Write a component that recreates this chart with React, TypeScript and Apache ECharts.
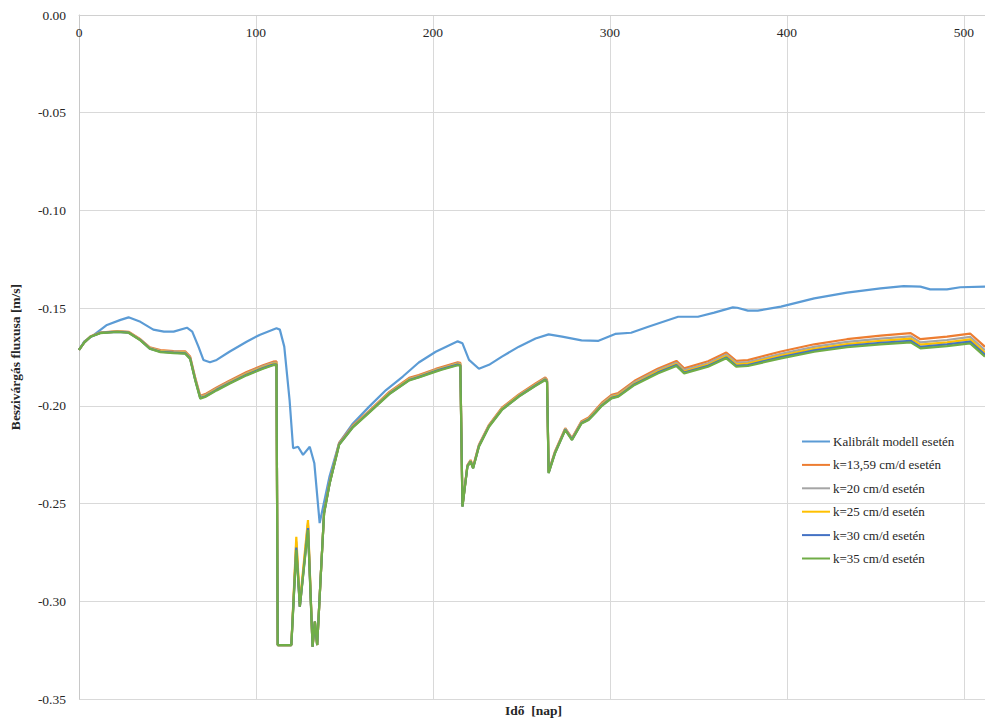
import React, { useEffect, useRef } from "react";
import * as echarts from "echarts";

const seriesNames = [
  "Kalibrált modell esetén",
  "k=13,59 cm/d esetén",
  "k=20 cm/d esetén",
  "k=25 cm/d esetén",
  "k=30 cm/d esetén",
  "k=35 cm/d esetén",
];
const seriesColors = ["#5B9BD5", "#ED7D31", "#A5A5A5", "#FFC000", "#4472C4", "#70AD47"];

const xTicks = [0, 100, 200, 300, 400, 500];
const yTicks = [0, -0.05, -0.1, -0.15, -0.2, -0.25, -0.3, -0.35];

const calibDays = [
  0, 3, 8.4, 15.8, 23.5, 28, 34.7, 42, 48, 53.5, 61, 64, 67.5, 70.3, 74, 77.8, 85, 94.7, 102, 111.6,
  113.5, 116, 119, 121, 123.8, 126.6, 130.4, 133, 136, 141.6, 147, 154.8, 164, 173.5, 183, 192, 201.6,
  214, 216.7, 220.4, 226, 231.7, 239, 248.6, 258, 265.4, 273, 284, 293.6, 303, 312, 321.7, 338.6,
  349.8, 359, 369.5, 372, 378, 383.6, 396.7, 415.5, 434, 453, 466, 475.5, 481, 490.5, 498, 512,
];
const calibValues = [
  -0.1714, -0.167, -0.1637, -0.1586, -0.156, -0.1547, -0.157, -0.161, -0.162, -0.162, -0.16, -0.162,
  -0.1697, -0.1765, -0.1777, -0.1765, -0.1723, -0.1672, -0.1637, -0.1603, -0.161, -0.1697, -0.197,
  -0.2217, -0.2209, -0.2251, -0.2209, -0.2294, -0.26, -0.236, -0.219, -0.209, -0.2004, -0.1919, -0.185,
  -0.1778, -0.1723, -0.167, -0.168, -0.1765, -0.181, -0.179, -0.1748, -0.1697, -0.1655, -0.1634,
  -0.1646, -0.1665, -0.1667, -0.1632, -0.1626, -0.1595, -0.1544, -0.1544, -0.1523, -0.1496, -0.1498,
  -0.1513, -0.1513, -0.1492, -0.145, -0.1421, -0.1399, -0.1387, -0.139, -0.1404, -0.1404, -0.1393, -0.139,
];

const kDays = [
  0, 3, 6.6, 12, 21.6, 28, 34.7, 40, 46, 53.5, 60, 62.8, 65.7, 68.5, 71.3, 77.8, 85, 94.7, 104, 109.7,
  111.6, 112.3, 120, 122.8, 124.8, 129.4, 132, 133.3, 134.6, 136.5, 138.5, 141.6, 147, 154.8, 164, 175.4,
  186.6, 192, 201.6, 205, 214, 215.5, 216.7, 219.5, 221.3, 222.7, 226, 231.7, 239, 248.6, 258, 263.5,
  264.5, 265.4, 269, 274.8, 278.6, 284, 288, 291.7, 295.5, 301, 304.8, 314, 327, 337.6, 342, 355.5,
  365.8, 371.4, 378, 396.7, 415.5, 434, 453, 470, 475.5, 490.5, 503.6, 512,
];

const k1359 = [
  -0.1714, -0.1675, -0.1644, -0.1625, -0.1618, -0.1621, -0.1659, -0.17, -0.1715, -0.172, -0.1721, -0.1748,
  -0.1857, -0.1948, -0.194, -0.1906, -0.1871, -0.1827, -0.1792, -0.1774, -0.1772, -0.3224, -0.3224,
  -0.271, -0.3028, -0.261, -0.3232, -0.3104, -0.3224, -0.289, -0.2545, -0.2392, -0.219, -0.21, -0.2025,
  -0.1928, -0.1857, -0.1842, -0.1811, -0.1801, -0.1777, -0.178, -0.2511, -0.2303, -0.2277, -0.2312,
  -0.2199, -0.2097, -0.2009, -0.1941, -0.1885, -0.1854, -0.1866, -0.2335, -0.2233, -0.2114, -0.2165,
  -0.2078, -0.2059, -0.2023, -0.1984, -0.1944, -0.1934, -0.1872, -0.181, -0.177, -0.1808, -0.1772,
  -0.1727, -0.177, -0.1766, -0.1722, -0.1685, -0.1659, -0.1641, -0.1628, -0.1659, -0.1646, -0.163, -0.1698,
];
const k20 = [
  -0.1714, -0.1675, -0.1645, -0.1626, -0.1619, -0.1623, -0.1661, -0.1703, -0.1718, -0.1723, -0.1725,
  -0.1752, -0.1862, -0.1953, -0.1945, -0.1911, -0.1877, -0.1833, -0.1798, -0.178, -0.1778, -0.3224,
  -0.3224, -0.2695, -0.3028, -0.26, -0.3232, -0.3104, -0.3224, -0.289, -0.2547, -0.2395, -0.2193, -0.2103,
  -0.2028, -0.1932, -0.1862, -0.1847, -0.1816, -0.1806, -0.1782, -0.1785, -0.2513, -0.2306, -0.228,
  -0.2315, -0.2202, -0.21, -0.2013, -0.1945, -0.189, -0.1859, -0.1871, -0.2338, -0.2236, -0.2117, -0.2168,
  -0.2082, -0.2064, -0.2028, -0.199, -0.195, -0.1941, -0.1879, -0.1818, -0.1779, -0.1817, -0.1782,
  -0.1737, -0.178, -0.1776, -0.1734, -0.1698, -0.1673, -0.1656, -0.1644, -0.1675, -0.1663, -0.1647, -0.1715,
];
const k25 = [
  -0.1714, -0.1675, -0.1645, -0.1627, -0.162, -0.1624, -0.1663, -0.1705, -0.1721, -0.1726, -0.1728,
  -0.1755, -0.1865, -0.1957, -0.1949, -0.1915, -0.1881, -0.1837, -0.1803, -0.1785, -0.1783, -0.3224,
  -0.3224, -0.267, -0.301, -0.2584, -0.3232, -0.3104, -0.3224, -0.289, -0.2548, -0.2397, -0.2196, -0.2106,
  -0.2031, -0.1935, -0.1865, -0.185, -0.1819, -0.1809, -0.1786, -0.1789, -0.2514, -0.2308, -0.2282,
  -0.2317, -0.2205, -0.2103, -0.2016, -0.1948, -0.1893, -0.1862, -0.1874, -0.2341, -0.2239, -0.212,
  -0.2171, -0.2085, -0.2067, -0.2032, -0.1994, -0.1955, -0.1945, -0.1885, -0.1824, -0.1786, -0.1824,
  -0.1789, -0.1745, -0.1788, -0.1784, -0.1743, -0.1708, -0.1684, -0.1667, -0.1656, -0.1687, -0.1675,
  -0.166, -0.1728,
];
const k30 = [
  -0.1714, -0.1675, -0.1646, -0.1627, -0.1621, -0.1625, -0.1664, -0.1707, -0.1723, -0.1728, -0.1731,
  -0.1758, -0.1868, -0.196, -0.1952, -0.1918, -0.1884, -0.1841, -0.1807, -0.1789, -0.1787, -0.3224,
  -0.3224, -0.2725, -0.3028, -0.2625, -0.3232, -0.3104, -0.3224, -0.289, -0.2549, -0.2399, -0.2198,
  -0.2108, -0.2033, -0.1938, -0.1868, -0.1853, -0.1822, -0.1812, -0.1789, -0.1792, -0.2515, -0.231,
  -0.2284, -0.2319, -0.2207, -0.2105, -0.2019, -0.1951, -0.1896, -0.1865, -0.1877, -0.2343, -0.2241,
  -0.2122, -0.2173, -0.2088, -0.207, -0.2035, -0.1997, -0.1959, -0.195, -0.1889, -0.183, -0.1791, -0.1829,
  -0.1795, -0.1752, -0.1795, -0.1791, -0.1751, -0.1716, -0.1693, -0.1677, -0.1667, -0.1698, -0.1685,
  -0.1671, -0.1739,
];
const k35 = [
  -0.1714, -0.1675, -0.1646, -0.1628, -0.1622, -0.1626, -0.1665, -0.1708, -0.1725, -0.173, -0.1733,
  -0.176, -0.187, -0.1963, -0.1955, -0.1921, -0.1887, -0.1844, -0.181, -0.1792, -0.179, -0.3224, -0.3224,
  -0.2737, -0.3028, -0.2635, -0.3232, -0.3104, -0.3224, -0.289, -0.255, -0.24, -0.22, -0.211, -0.2035,
  -0.194, -0.187, -0.1855, -0.1825, -0.1815, -0.1792, -0.1795, -0.2516, -0.2311, -0.2285, -0.232, -0.2209,
  -0.2107, -0.2021, -0.1953, -0.1898, -0.1868, -0.188, -0.2345, -0.2243, -0.2124, -0.2175, -0.209,
  -0.2072, -0.2038, -0.2, -0.1962, -0.1953, -0.1893, -0.1834, -0.1796, -0.1834, -0.18, -0.1757, -0.18,
  -0.1796, -0.1757, -0.1723, -0.17, -0.1685, -0.1675, -0.1706, -0.1694, -0.168, -0.1748,
];

const FONT = "Liberation Serif";

export default function App() {
  const ref = useRef<HTMLDivElement>(null);
  useEffect(() => {
    if (!ref.current) return;
    const chart = echarts.init(ref.current, undefined, { renderer: "svg" });
    const pair = (xs: number[], ys: number[]) => xs.map((x, i) => [x, ys[i]]);
    const allData = [
      pair(calibDays, calibValues),
      pair(kDays, k1359),
      pair(kDays, k20),
      pair(kDays, k25),
      pair(kDays, k30),
      pair(kDays, k35),
    ];
    chart.setOption({
      animation: false,
      backgroundColor: "#ffffff",
      textStyle: { fontFamily: FONT },
      grid: { left: 75, top: 15, right: 0, bottom: 20, containLabel: false },
      legend: {
        orient: "vertical",
        left: 797,
        top: 430,
        itemWidth: 28,
        itemHeight: 14,
        itemGap: 10.4,
        icon: "path://M0,6 L28,6 L28,8 L0,8 Z",
        data: seriesNames,
        textStyle: { fontFamily: FONT, fontSize: 13, color: "#262626", padding: [0, 0, 0, -2] },
      },
      xAxis: {
        type: "value",
        position: "top",
        min: xTicks[0],
        max: 512,
        interval: 100,
        axisLine: { show: true, lineStyle: { color: "#d0d0d0", width: 1 } },
        axisTick: { show: false },
        axisLabel: {
          inside: true,
          margin: 10,
          fontFamily: FONT,
          fontSize: 13.5,
          color: "#262626",
          showMaxLabel: false,
          formatter: (v: number) => (xTicks.includes(Math.round(v)) ? String(Math.round(v)) : ""),
        },
        splitLine: { show: true, lineStyle: { color: "#d9d9d9", width: 1 } },
      },
      yAxis: {
        type: "value",
        min: yTicks[yTicks.length - 1],
        max: yTicks[0],
        interval: 0.05,
        name: "Beszivárgás fluxusa [m/s]",
        nameLocation: "middle",
        nameGap: 57,
        nameRotate: 90,
        nameTextStyle: { fontFamily: FONT, fontSize: 13.5, fontWeight: "bold", color: "#262626" },
        axisLine: { show: true, onZero: false, lineStyle: { color: "#c8c8c8", width: 1 } },
        axisTick: { show: false },
        axisLabel: {
          margin: 13,
          fontFamily: FONT,
          fontSize: 13.5,
          color: "#262626",
          formatter: (v: number) => v.toFixed(2),
        },
        splitLine: { show: true, lineStyle: { color: "#d9d9d9", width: 1 } },
      },
      graphic: [
        {
          type: "text",
          left: 505,
          top: 703,
          style: {
            text: "Idő  [nap]",
            fontFamily: FONT,
            fontSize: 13.5,
            fontWeight: "bold",
            fill: "#262626",
          },
        },
      ],
      series: seriesNames.map((name, i) => ({
        name,
        type: "line",
        data: allData[i],
        symbol: "none",
        showSymbol: false,
        smooth: false,
        lineStyle: { color: seriesColors[i], width: 2.2 },
        itemStyle: { color: seriesColors[i] },
        z: 2 + i,
      })),
    });
    return () => chart.dispose();
  }, []);
  return (
    <div
      ref={ref}
      style={{ position: "fixed", left: 0, top: 0, width: 985, height: 719, background: "#fff" }}
    />
  );
}
